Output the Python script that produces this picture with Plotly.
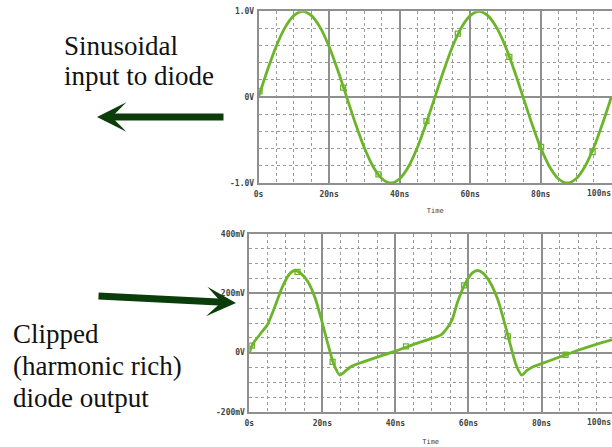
import plotly.graph_objects as go

# ---------------- data ----------------
t_in = [0, 2.5, 5, 7.5, 10, 12.5, 15, 17.5, 20, 22.5, 25, 27.5, 30, 32.5, 35, 37.5, 40,
        42.5, 45, 47.5, 50, 52.5, 55, 57.5, 60, 62.5, 65, 67.5, 70, 72.5, 75, 77.5, 80,
        82.5, 85, 87.5, 90, 92.5, 95, 97.5, 100]
v_in = [0.00, 0.31, 0.59, 0.81, 0.95, 1.00, 0.95, 0.81, 0.59, 0.31, 0.00, -0.31, -0.59,
        -0.81, -0.95, -1.00, -0.95, -0.81, -0.59, -0.31, 0.00, 0.31, 0.59, 0.81, 0.95,
        1.00, 0.95, 0.81, 0.59, 0.31, 0.00, -0.31, -0.59, -0.81, -0.95, -1.00, -0.95,
        -0.81, -0.59, -0.31, 0.00]
t_in_mk = [0.3, 24.0, 34.0, 47.6, 56.5, 71.1, 80.1, 94.7]
v_in_mk = [0.07, 0.11, -0.90, -0.28, 0.74, 0.47, -0.58, -0.64]

t_out = [0, 1, 3, 5, 7, 9, 11, 12.5, 14, 16, 18, 20, 21.5, 23, 24.8, 26.5, 28, 31, 35,
         40, 45, 50, 52.5, 54, 55.5, 57, 59, 61, 62.5, 64, 66, 68, 70, 71.5, 73, 74.6,
         76, 78, 82, 86, 90, 95, 100]
v_out = [0, 30, 63, 95, 155, 220, 265, 277, 268, 240, 185, 100, 30, -35, -76, -60, -46,
         -32, -15, 5, 28, 48, 60, 80, 110, 170, 230, 268, 277, 268, 235, 180, 95, 25,
         -40, -76, -60, -46, -28, -10, 8, 28, 46]
t_out_mk = [0.7, 13.2, 22.8, 42.9, 58.8, 70.8, 86.6]
v_out_mk = [24, 272, -31, 21, 227, 55, -7]

in_ticks = [-1, 0, 1]
in_tick_text = ["-1.0V", "0V", "1.0V"]
out_ticks = [-200, 0, 200, 400]
out_tick_text = ["-200mV", "0V", "200mV", "400mV"]
time_ticks = [0, 20, 40, 60, 80, 100]
time_tick_text = ["0s", "20ns", "40ns", "60ns", "80ns", "100ns"]

# ---------------- styling ----------------
W, H = 612, 447
GREEN = "#6cb52a"
ARROW = "#0b3d0b"
GRID = "#8f8f8f"
MINOR = "#9a9a9a"
tickfont = dict(family="DejaVu Sans Mono", size=8, color="#444444", weight="bold")

def px(x):
    return x / W

def py(y):
    return 1 - y / H

fig = go.Figure()
fig.add_trace(go.Scatter(x=t_in, y=v_in, mode="lines", line=dict(color=GREEN, width=2.8, shape="spline", smoothing=0.8),
                         xaxis="x", yaxis="y", hoverinfo="skip"))
fig.add_trace(go.Scatter(x=t_in_mk, y=v_in_mk, mode="markers",
                         marker=dict(symbol="square-open", size=5, color=GREEN, line=dict(width=1.3, color=GREEN)),
                         xaxis="x", yaxis="y"))
fig.add_trace(go.Scatter(x=t_out, y=v_out, mode="lines", line=dict(color=GREEN, width=2.8, shape="spline", smoothing=0.6),
                         xaxis="x2", yaxis="y2", hoverinfo="skip"))
fig.add_trace(go.Scatter(x=t_out_mk, y=v_out_mk, mode="markers",
                         marker=dict(symbol="square-open", size=5, color=GREEN, line=dict(width=1.3, color=GREEN)),
                         xaxis="x2", yaxis="y2"))

# last time label is drawn separately, right-aligned so it stays inside the page
shown_time_text = time_tick_text[:-1] + [""]

def xax(domain, rng, anchor, standoff):
    return dict(domain=domain, range=rng, anchor=anchor, tickvals=time_ticks, ticktext=shown_time_text,
                tickfont=tickfont, showgrid=True, gridcolor=GRID, gridwidth=1.5,
                minor=dict(dtick=5, tick0=0, showgrid=True, gridcolor=MINOR, griddash="dot", gridwidth=1),
                showline=True, linecolor=GRID, linewidth=1.5, mirror=True, zeroline=False, ticks="",
                ticklabelstandoff=3, ticklabeloverflow="allow", automargin=False,
                title=dict(text="Time", font=dict(family="DejaVu Sans Mono", size=7, color="#444444"), standoff=standoff),
                fixedrange=True)

def yax(domain, rng, anchor, tv, tt, mdt):
    return dict(domain=domain, range=rng, anchor=anchor, tickvals=tv, ticktext=tt, tickfont=tickfont,
                showgrid=True, gridcolor=GRID, gridwidth=1.5,
                minor=dict(dtick=mdt, tick0=0, showgrid=True, gridcolor=MINOR, griddash="dot", gridwidth=1),
                showline=True, linecolor=GRID, linewidth=1.5, mirror=True, zeroline=False, ticks="",
                ticklabelstandoff=1, ticklabeloverflow="allow", automargin=False, fixedrange=True)

fig.update_layout(
    width=W, height=H, margin=dict(l=0, r=0, t=0, b=0, autoexpand=False),
    paper_bgcolor="white", plot_bgcolor="white", showlegend=False,
    xaxis=xax([px(258.5), 1.0], [0, 100.2], "y", 10),
    yaxis=yax([py(183), py(11.3)], [-1, 1], "x", in_ticks, in_tick_text, 0.2),
    xaxis2=xax([px(249.3), 1.0], [0, 99.3], "y2", 12),
    yaxis2=yax([py(412), py(234)], [-200, 400], "x2", out_ticks, out_tick_text, 50),
)

for ylab in (193.5, 422.5):
    fig.add_annotation(text=time_tick_text[-1], x=1.0, y=py(ylab), xref="paper", yref="paper",
                       xanchor="right", yanchor="middle", showarrow=False, font=tickfont, borderpad=0)

serif = dict(family="Liberation Serif", size=27, color="#111111")
labels = [
    ("Sinusoidal", 62, 46),
    ("input to diode", 62, 76),
    ("Clipped", 11, 334),
    ("(harmonic rich)", 11, 366),
    ("diode output", 11, 398),
]
for txt, x, y in labels:
    fig.add_annotation(text=txt, x=px(x), y=py(y), xref="paper", yref="paper", xanchor="left", yanchor="middle",
                       showarrow=False, font=serif)

# arrows
fig.add_annotation(text="", x=px(97), y=py(117), xref="paper", yref="paper", ax=128, ay=0,
                   showarrow=True, arrowhead=3, arrowwidth=7, arrowsize=0.7, arrowcolor=ARROW)
fig.add_annotation(text="", x=px(236), y=py(303), xref="paper", yref="paper", ax=-139, ay=-7,
                   showarrow=True, arrowhead=3, arrowwidth=7, arrowsize=0.7, arrowcolor=ARROW)

fig.write_html("out.html")
